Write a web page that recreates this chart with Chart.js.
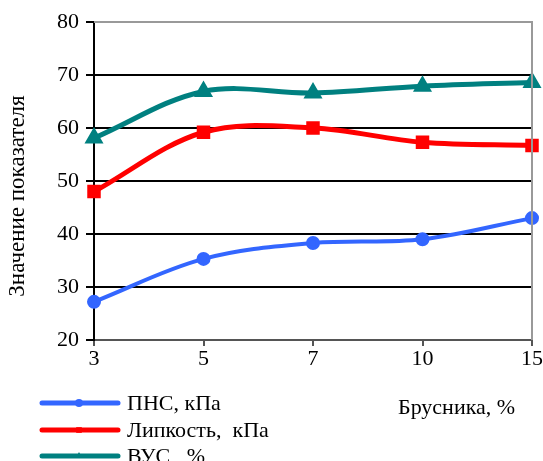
<!DOCTYPE html>
<html><head><meta charset="utf-8">
<script src="https://cdn.jsdelivr.net/npm/chart.js@4/dist/chart.umd.min.js"></script>
<style>html,body{margin:0;padding:0;background:#fff;}#wrap{position:relative;width:543px;height:461px;}</style>
</head><body><div id="wrap"><canvas id="c" width="543" height="461"></canvas></div>
<script>
const categories = ['3', '5', '7', '10', '15'];
const pnsValues = [27.2, 35.3, 38.3, 39.0, 43.0];
const lipValues = [48.0, 59.2, 60.0, 57.3, 56.7];
const vusValues = [58.1, 66.9, 66.6, 67.9, 68.6];
const seriesNames = ['ПНС, кПа', 'Липкость,  кПа', 'ВУС,  %'];
const yTicks = [20, 30, 40, 50, 60, 70, 80];
const yTitle = 'Значение показателя';
const xTitle = 'Брусника, %';
const FONT = "'Liberation Serif', 'Times New Roman', serif";

const extras = {
  id: 'extras',
  afterDraw(chart) {
    const ctx = chart.ctx, a = chart.chartArea;
    ctx.save();
    ctx.strokeStyle = '#999'; ctx.lineWidth = 2;
    ctx.beginPath(); ctx.moveTo(a.left, a.top); ctx.lineTo(a.right, a.top); ctx.lineTo(a.right, a.bottom); ctx.stroke();
    ctx.save();
    ctx.translate(18, 196); ctx.rotate(-Math.PI / 2);
    ctx.font = '23px ' + FONT; ctx.fillStyle = '#000'; ctx.textAlign = 'center'; ctx.textBaseline = 'middle';
    ctx.fillText(yTitle, 0, 0);
    ctx.restore();
    ctx.font = '22px ' + FONT; ctx.fillStyle = '#000'; ctx.textBaseline = 'middle';
    const rows = [403, 430, 456];
    chart.data.datasets.forEach((ds, i) => {
      const y = rows[i];
      ctx.strokeStyle = ds.borderColor; ctx.lineWidth = 5; ctx.lineCap = 'round';
      ctx.beginPath(); ctx.moveTo(42, y); ctx.lineTo(118, y); ctx.stroke();
      ctx.fillStyle = ds.borderColor;
      Chart.helpers.drawPoint(ctx, {pointStyle: ds.pointStyle, radius: 4, borderWidth: 0}, 79, y);
      ctx.fillStyle = '#000';
      ctx.fillText(ds.label, 127, y + 1);
    });
    ctx.fillText(xTitle, 398, 408);
    ctx.restore();
  }
};

new Chart(document.getElementById('c'), {
  type: 'line',
  data: {
    labels: categories,
    datasets: [
      {label: seriesNames[0], data: pnsValues, borderColor: '#3366FF', backgroundColor: '#3366FF', borderWidth: 4, pointStyle: 'circle', pointRadius: 5, tension: 0.35},
      {label: seriesNames[1], data: lipValues, borderColor: '#FF0000', backgroundColor: '#FF0000', borderWidth: 5, pointStyle: 'rect', pointRadius: 6, tension: 0.35},
      {label: seriesNames[2], data: vusValues, borderColor: '#008080', backgroundColor: '#008080', borderWidth: 5, pointStyle: 'triangle', pointRadius: 6, tension: 0.35}
    ]
  },
  options: {
    responsive: false, animation: false, devicePixelRatio: 1,
    layout: {padding: {left: 0, right: 11, top: 22, bottom: 0}},
    plugins: {legend: {display: false}, tooltip: {enabled: false}},
    scales: {
      x: {
        offset: false,
        grid: {drawOnChartArea: false, drawTicks: true, tickLength: 6, color: '#555', lineWidth: 2},
        border: {color: '#555', width: 2},
        ticks: {color: '#000', font: {family: FONT, size: 22}, padding: 0, maxRotation: 0},
        afterFit(s) { s.height = 121; }
      },
      y: {
        min: 20, max: 80,
        afterBuildTicks(s) { s.ticks = yTicks.map(v => ({value: v})); },
        grid: {color: c => (c.tick && c.tick.value === 80) ? 'rgba(0,0,0,0)' : '#000', lineWidth: 2, tickLength: 8, tickColor: '#000'},
        border: {color: '#000', width: 2},
        ticks: {color: '#000', font: {family: FONT, size: 22}, padding: 7},
        title: {display: false},
        afterFit(s) { s.width = 94; }
      }
    }
  },
  plugins: [extras]
});
</script></body></html>
